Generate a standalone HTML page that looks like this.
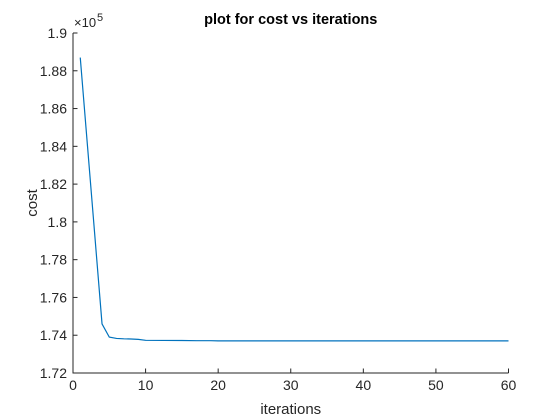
<!DOCTYPE html>
<html><head><meta charset="utf-8"><style>
body{margin:0;background:#fff;}
svg{display:block;font-family:"Liberation Sans",Arial,sans-serif;}
</style></head><body>
<svg width="560" height="420">
<rect width="560" height="420" fill="#fff"/>
<g id="axes"></g>
<script>
const xTicks=[0,10,20,30,40,50,60];
const yTicks=[1.72,1.74,1.76,1.78,1.8,1.82,1.84,1.86,1.88,1.9];
const yTickLabels=["1.72","1.74","1.76","1.78","1.8","1.82","1.84","1.86","1.88","1.9"];
const iterations=[1,2,3,4,5,6,7,8,9,10,15,17,19,20,30,40,50,60];
const costs=[1.887,1.840,1.793,1.746,1.739,1.7383,1.7381,1.738,1.7378,1.7373,1.7372,1.7371,1.7371,1.7370,1.7370,1.7370,1.7370,1.7370];
const L=73,R=508.5,T=33,B=373;
const sx=v=>L+(v-0)/(60-0)*(R-L);
const sy=v=>B-(v-1.72)/(1.9-1.72)*(B-T);
const ns="http://www.w3.org/2000/svg";
const g=document.getElementById('axes');
function el(t,a,txt){const e=document.createElementNS(ns,t);for(const k in a)e.setAttribute(k,a[k]);if(txt!==undefined)e.textContent=txt;g.appendChild(e);return e;}
const ax=el('path',{d:`M${L},${T}V${B}H${R}`,fill:'none',stroke:'#262626','stroke-width':1});


xTicks.forEach(v=>{
 const t=el('line',{x1:sx(v),x2:sx(v),y1:B,y2:B-4.5,stroke:'#262626'});
 
 
 const l=el('text',{x:sx(v),y:B+17,'text-anchor':'middle','font-size':14,fill:'#262626'},String(v));
 
 
});
yTicks.forEach((v,i)=>{
 const t=el('line',{x1:L,x2:L+4.5,y1:sy(v),y2:sy(v),stroke:'#262626'});
 
 
 const l=el('text',{x:L-6,y:sy(v)+5,'text-anchor':'end','font-size':14,fill:'#262626'},yTickLabels[i]);
 
 
});
const ex=el('text',{x:L+1,y:T-6,'font-size':13,fill:'#262626'},'×10');


const ex2=el('text',{x:L+24,y:T-12,'font-size':11,fill:'#262626'},'5');


const line=el('polyline',{points:iterations.map((x,i)=>sx(x)+','+sy(costs[i])).join(' '),fill:'none',stroke:'#0072BD','stroke-width':1.2});


const ti=el('text',{x:(L+R)/2,y:24,'text-anchor':'middle','font-size':14.5,'font-weight':'bold',fill:'#000'},'plot for cost vs iterations');


const xl=el('text',{x:(L+R)/2,y:414,'text-anchor':'middle','font-size':15,fill:'#262626'},'iterations');


const yl=el('text',{x:0,y:0,'text-anchor':'middle','font-size':15,fill:'#262626',transform:`translate(37,${(T+B)/2}) rotate(-90)`},'cost');


</script>
</svg>
</body></html>
